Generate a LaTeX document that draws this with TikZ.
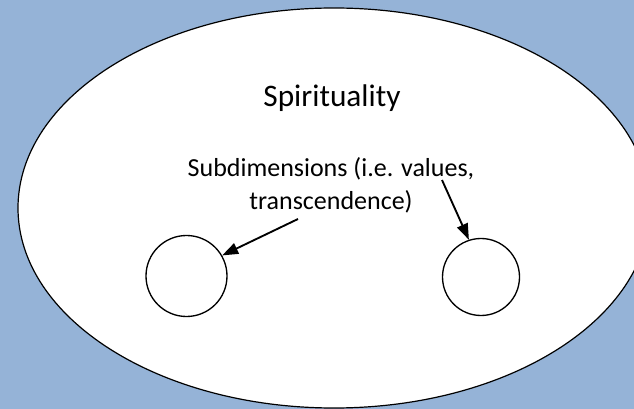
\documentclass[tikz,border=0pt]{standalone}
\usepackage{fontspec}
\setmainfont{Carlito}
\usetikzlibrary{shapes.geometric}
\usetikzlibrary{arrows.meta}
\definecolor{bgblue}{RGB}{149,179,215}

\begin{document}
\begin{tikzpicture}[x=0.75pt,y=-0.75pt,inner sep=0pt,
  sub/.style={circle,draw,line width=1pt,fill=white},
  pointer/.style={line width=1.4pt,-{Triangle[length=12pt,width=8.5pt]}}]
\useasboundingbox (0,0) rectangle (634,409);
\fill[bgblue] (0,0) rectangle (634,409);
\node[ellipse,draw,line width=0.9pt,fill=white,minimum width=474pt,minimum height=300pt] (sp) at (334,208) {};
\node[anchor=base,font=\fontsize{23.5}{28}\selectfont] (title) at (332,107) {Spirituality};
\node[align=center,font=\fontsize{19.5}{24.75}\selectfont] (lbl) at (331,185) {Subdimensions (i.e. values,\\transcendence)};
\node[sub,minimum size=60.75pt] (lc) at (186.5,276) {};
\node[sub,minimum size=57.75pt] (rc) at (481,277) {};
\coordinate (s1) at (298,219);
\coordinate (s2) at (442,180);

\draw[pointer] (s1) -- (lc.30);
\draw[pointer] (s2) -- (rc.108);
\end{tikzpicture}
\end{document}
